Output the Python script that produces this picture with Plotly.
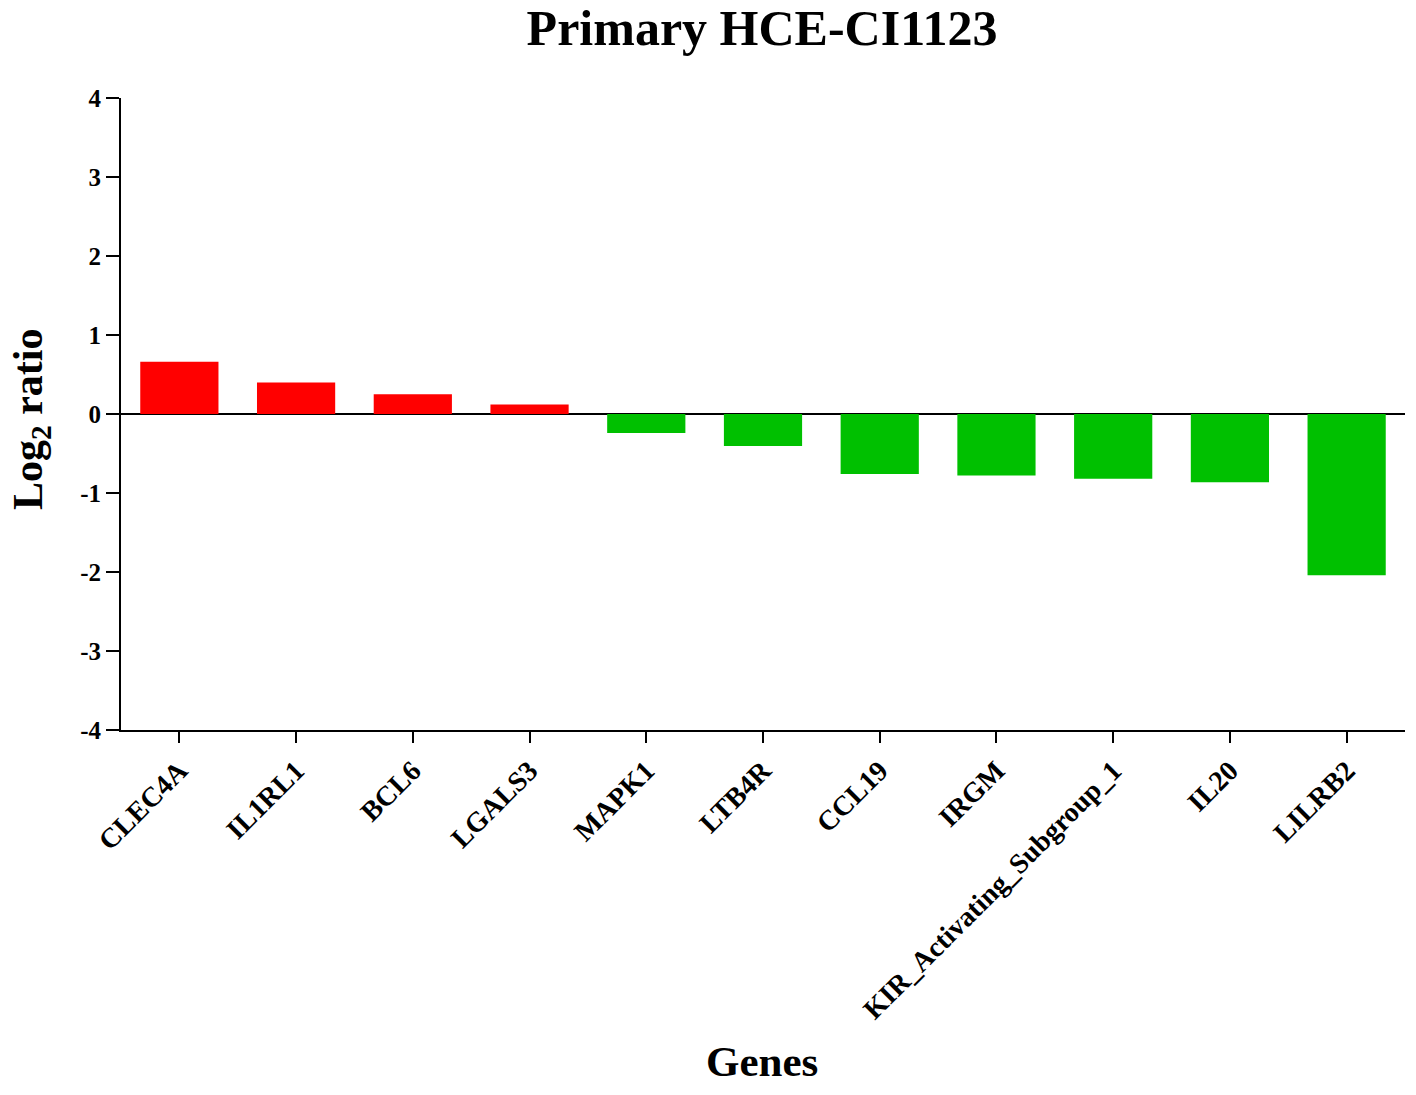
import plotly.graph_objects as go

genes = ["CLEC4A", "IL1RL1", "BCL6", "LGALS3", "MAPK1", "LTB4R", "CCL19",
         "IRGM", "KIR_Activating_Subgroup_1", "IL20", "LILRB2"]
log2_ratio = [0.66, 0.40, 0.25, 0.12, -0.24, -0.405, -0.76, -0.78, -0.82, -0.865, -2.04]
y_ticks = [-4, -3, -2, -1, 0, 1, 2, 3, 4]

colors = ["#FF0000" if v > 0 else "#00C000" for v in log2_ratio]

FONT = "Liberation Serif"
W, H = 1408, 1087  # page body has an 8px margin

fig = go.Figure(go.Bar(x=genes, y=log2_ratio, marker=dict(color=colors, line=dict(width=0)),
                       width=0.67))

fig.update_layout(
    width=W, height=H,
    margin=dict(l=113, r=11, t=90, b=365, autoexpand=False),
    paper_bgcolor="white", plot_bgcolor="white",
    showlegend=False,
    font=dict(family=FONT, color="black"),
    title=dict(text="Primary HCE-CI1123", x=754 / W, xanchor="center", y=1 - 19 / H,
               yanchor="middle", font=dict(family=FONT, size=50, weight="bold", color="black")),
)

fig.update_xaxes(
    type="category", range=[-0.5, 10.5],
    showline=True, linecolor="black", linewidth=2,
    ticks="outside", ticklen=11, tickwidth=2, tickcolor="black",
    tickangle=-45, tickfont=dict(family=FONT, size=28, weight="bold", color="black"),
    showgrid=False, automargin=False,
)
fig.update_yaxes(
    range=[-4, 4], tickvals=y_ticks, ticktext=[str(t) for t in y_ticks],
    showline=True, linecolor="black", linewidth=2,
    ticks="outside", ticklen=13, tickwidth=2, tickcolor="black",
    tickfont=dict(family=FONT, size=25, weight="bold", color="black"),
    showgrid=False, zeroline=True, zerolinecolor="black", zerolinewidth=2,
    automargin=False,
)

fig.add_annotation(text="Genes", xref="paper", yref="paper", x=(762 - 121) / 1284,
                   y=(730 - 1061) / 632, showarrow=False, xanchor="center", yanchor="middle",
                   font=dict(family=FONT, size=43, weight="bold", color="black"))
fig.add_annotation(text="Log<sub>2</sub> ratio", xref="paper", yref="paper", x=(31 - 121) / 1284,
                   y=(730 - 419) / 632, showarrow=False, xanchor="center", yanchor="middle",
                   textangle=-90,
                   font=dict(family=FONT, size=42, weight="bold", color="black"))

fig.write_html("out.html")
